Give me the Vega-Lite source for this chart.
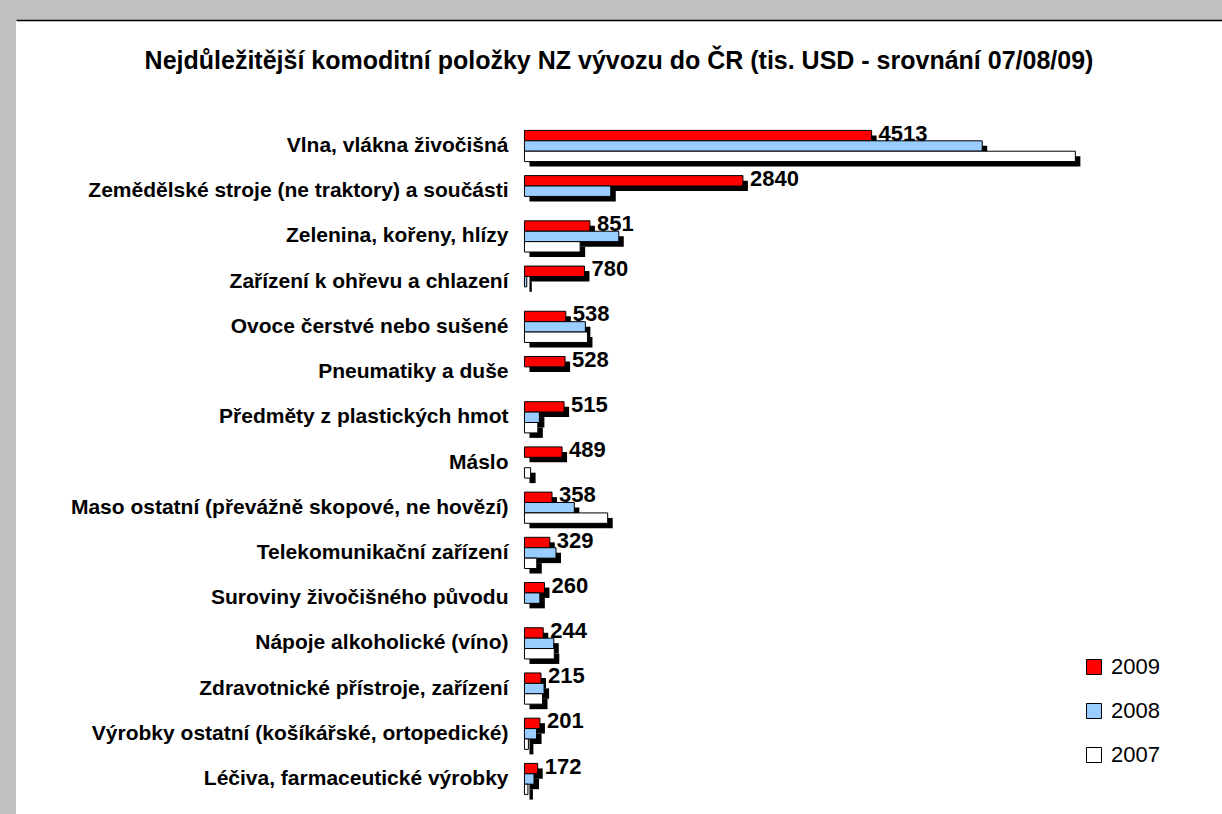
{
  "$schema": "https://vega.github.io/schema/vega-lite/v6.json",
  "autosize": {"type": "none"},
  "width": 1206,
  "height": 794,
  "padding": {"left": 16, "top": 20, "right": 0, "bottom": 0},
  "background": "#c0c0c0",
  "title": {
    "text": "Nejdůležitější komoditní položky NZ vývozu do ČR (tis. USD - srovnání 07/08/09)",
    "font": "Liberation Sans",
    "fontSize": 25,
    "fontWeight": "bold",
    "color": "#000000",
    "anchor": "middle",
    "orient": "top",
    "offset": -54
  },
  "config": {
    "view": {"fill": "#ffffff", "stroke": null},
    "font": "Liberation Sans"
  },
  "data": {
    "values": [
      {"k": "Vlna, vlákna živočišná  ", "year": "2009", "v": 4513},
      {"k": "Vlna, vlákna živočišná  ", "year": "2008", "v": 5951},
      {"k": "Vlna, vlákna živočišná  ", "year": "2007", "v": 7162},
      {"k": "Zemědělské stroje (ne traktory) a součásti", "year": "2009", "v": 2840},
      {"k": "Zemědělské stroje (ne traktory) a součásti", "year": "2008", "v": 1122},
      {"k": "Zemědělské stroje (ne traktory) a součásti", "year": "2007", "v": 0},
      {"k": "Zelenina, kořeny, hlízy", "year": "2009", "v": 851},
      {"k": "Zelenina, kořeny, hlízy", "year": "2008", "v": 1226},
      {"k": "Zelenina, kořeny, hlízy", "year": "2007", "v": 724},
      {"k": "Zařízení k ohřevu a chlazení", "year": "2009", "v": 780},
      {"k": "Zařízení k ohřevu a chlazení", "year": "2008", "v": 30},
      {"k": "Zařízení k ohřevu a chlazení", "year": "2007", "v": 0},
      {"k": "Ovoce čerstvé nebo sušené", "year": "2009", "v": 538},
      {"k": "Ovoce čerstvé nebo sušené", "year": "2008", "v": 792},
      {"k": "Ovoce čerstvé nebo sušené", "year": "2007", "v": 819},
      {"k": "Pneumatiky a duše", "year": "2009", "v": 528},
      {"k": "Pneumatiky a duše", "year": "2008", "v": 0},
      {"k": "Pneumatiky a duše", "year": "2007", "v": 0},
      {"k": "Předměty z plastických hmot", "year": "2009", "v": 515},
      {"k": "Předměty z plastických hmot", "year": "2008", "v": 194},
      {"k": "Předměty z plastických hmot", "year": "2007", "v": 174},
      {"k": "Máslo", "year": "2009", "v": 489},
      {"k": "Máslo", "year": "2008", "v": 0},
      {"k": "Máslo", "year": "2007", "v": 80},
      {"k": "Maso ostatní (převážně skopové, ne hovězí)", "year": "2009", "v": 358},
      {"k": "Maso ostatní (převážně skopové, ne hovězí)", "year": "2008", "v": 648},
      {"k": "Maso ostatní (převážně skopové, ne hovězí)", "year": "2007", "v": 1082},
      {"k": "Telekomunikační zařízení", "year": "2009", "v": 329},
      {"k": "Telekomunikační zařízení", "year": "2008", "v": 410},
      {"k": "Telekomunikační zařízení", "year": "2007", "v": 160},
      {"k": "Suroviny živočišného původu", "year": "2009", "v": 260},
      {"k": "Suroviny živočišného původu", "year": "2008", "v": 200},
      {"k": "Suroviny živočišného původu", "year": "2007", "v": 0},
      {"k": "Nápoje alkoholické (víno)", "year": "2009", "v": 244},
      {"k": "Nápoje alkoholické (víno)", "year": "2008", "v": 381},
      {"k": "Nápoje alkoholické (víno)", "year": "2007", "v": 388},
      {"k": "Zdravotnické přístroje, zařízení", "year": "2009", "v": 215},
      {"k": "Zdravotnické přístroje, zařízení", "year": "2008", "v": 255},
      {"k": "Zdravotnické přístroje, zařízení", "year": "2007", "v": 235},
      {"k": "Výrobky ostatní (košíkářské, ortopedické)", "year": "2009", "v": 201},
      {"k": "Výrobky ostatní (košíkářské, ortopedické)", "year": "2008", "v": 157},
      {"k": "Výrobky ostatní (košíkářské, ortopedické)", "year": "2007", "v": 51},
      {"k": "Léčiva, farmaceutické výrobky", "year": "2009", "v": 172},
      {"k": "Léčiva, farmaceutické výrobky", "year": "2008", "v": 124},
      {"k": "Léčiva, farmaceutické výrobky", "year": "2007", "v": 45}
    ]
  },
  "encoding": {
    "x": {
      "field": "v",
      "type": "quantitative",
      "scale": {"domain": [-6610, 9068], "nice": false, "zero": false},
      "axis": {
        "title": null,
        "orient": "top",
        "domain": true,
        "domainColor": "#000000",
        "domainWidth": 1.5,
        "labels": false,
        "ticks": false,
        "grid": false
      }
    }
  },
  "layer": [
    {
      "transform": [{"filter": "datum.v > 0"}],
      "mark": {"type": "bar", "color": "#000000", "xOffset": 5, "x2Offset": 5},
      "encoding": {
        "y": {
          "field": "k",
          "type": "nominal",
          "sort": null,
          "scale": {"range": [103.4, 781.6], "paddingInner": 0.31, "paddingOuter": 0.155, "align": 0.857},
          "axis": null
        },
        "yOffset": {
          "field": "year",
          "type": "nominal",
          "scale": {"domain": ["2009", "2008", "2007"], "paddingInner": 0, "paddingOuter": 0}
        }
      }
    },
    {
      "layer": [
        {
          "transform": [{"filter": "datum.v > 0"}],
          "mark": {"type": "bar", "stroke": "#000000", "strokeWidth": 1},
          "encoding": {
            "fill": {
              "field": "year",
              "type": "nominal",
              "scale": {"domain": ["2009", "2008", "2007"], "range": ["#ff0000", "#99ccff", "#ffffff"]},
              "legend": {
                "title": null,
                "orient": "none",
                "legendX": 1067,
                "legendY": 636,
                "padding": 0,
                "symbolType": "square",
                "symbolSize": 225,
                "symbolStrokeColor": "#000000",
                "symbolStrokeWidth": 1,
                "symbolOpacity": 1,
                "labelFont": "Liberation Sans",
                "labelFontSize": 22,
                "labelColor": "#000000",
                "labelOffset": 6,
                "rowPadding": 22
              }
            }
          }
        },
        {
          "transform": [{"filter": "datum.year == '2009'"}],
          "mark": {"type": "text", "align": "left", "baseline": "middle", "dx": 7, "dy": -2, "font": "Liberation Sans", "fontSize": 22, "fontWeight": "bold", "color": "#000000"},
          "encoding": {"text": {"field": "v", "type": "quantitative", "format": "d"}}
        }
      ],
      "encoding": {
        "y": {
          "field": "k",
          "type": "nominal",
          "sort": null,
          "scale": {"range": [103.4, 781.6], "paddingInner": 0.31, "paddingOuter": 0.155, "align": 0.5},
          "axis": {
            "title": null,
            "orient": "left",
            "domain": false,
            "ticks": false,
            "tickSize": 0,
            "labelPadding": -492,
            "labelAlign": "right",
            "labelBaseline": "middle",
            "labelFont": "Liberation Sans",
            "labelFontSize": 21,
            "labelFontWeight": "bold",
            "labelColor": "#000000",
            "labelLimit": 0,
            "grid": false
          }
        },
        "yOffset": {
          "field": "year",
          "type": "nominal",
          "scale": {"domain": ["2009", "2008", "2007"], "paddingInner": 0, "paddingOuter": 0}
        }
      }
    },
    {
      "data": {"values": [{}]},
      "mark": {"type": "rule", "color": "#000000", "strokeWidth": 2},
      "encoding": {"x": {"datum": -6610}}
    }
  ],
  "resolve": {"scale": {"y": "independent"}}
}
